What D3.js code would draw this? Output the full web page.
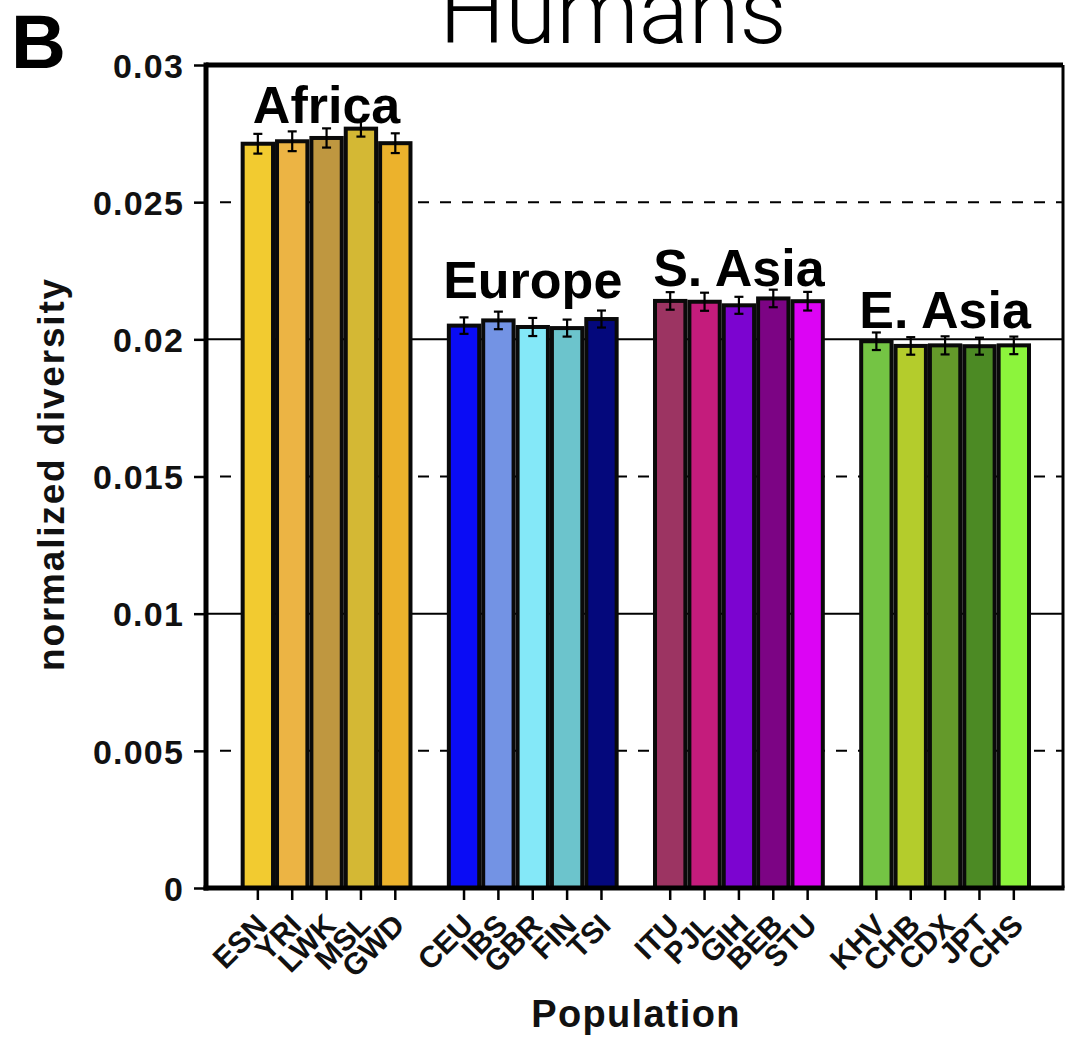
<!DOCTYPE html>
<html>
<head>
<meta charset="utf-8">
<script src="https://cdn.jsdelivr.net/npm/d3@7"></script>
<style>
  html, body { margin: 0; padding: 0; background: #fff; }
  svg { display: block; font-family: "Liberation Sans", Arial, sans-serif; }
</style>
</head>
<body>
<div id="app"></div>
<script>
// data
const groupNames = ["Africa", "Europe", "S. Asia", "E. Asia"];
const populations = [
  ["ESN", "YRI", "LWK", "MSL", "GWD"],
  ["CEU", "IBS", "GBR", "FIN", "TSI"],
  ["ITU", "PJL", "GIH", "BEB", "STU"],
  ["KHV", "CHB", "CDX", "JPT", "CHS"]
];
const diversity = [
  [0.02713, 0.02722, 0.02734, 0.02768, 0.02715],
  [0.02050, 0.02069, 0.02045, 0.02041, 0.02074],
  [0.02140, 0.02137, 0.02124, 0.02149, 0.02139],
  [0.01993, 0.01976, 0.01978, 0.01975, 0.01978]
];
const diversityErr = [
  [0.00036, 0.00036, 0.00035, 0.00029, 0.00036],
  [0.00030, 0.00032, 0.00033, 0.00031, 0.00031],
  [0.00032, 0.00033, 0.00031, 0.00032, 0.00034],
  [0.00032, 0.00032, 0.00033, 0.00031, 0.00032]
];
const barColors = [
  ["#f2cb30", "#ecb444", "#bf9740", "#d4b834", "#ecb22c"],
  ["#0a0cf5", "#7393e4", "#84e8f8", "#6cc4cc", "#04087c"],
  ["#9c3462", "#c41c7c", "#7c04d0", "#7c0484", "#dc04f4"],
  ["#74c444", "#b4cc2c", "#64992a", "#4c8a24", "#8cf43c"]
];
// where each region name sits, in data units
const groupLabelAt = [0.0279, 0.02152, 0.02196, 0.02043];
const yTicks = [0, 0.005, 0.01, 0.015, 0.02, 0.025, 0.03];
const yTickLabels = ["0", "0.005", "0.01", "0.015", "0.02", "0.025", "0.03"];
const solidGrid = [0.01, 0.02];
const dashedGrid = [0.005, 0.015, 0.025];

const W = 1066, H = 1037;
const mLeft = 206, mRight = 1063, mTop = 65, mBottom = 888;

const bars = populations.flatMap((pops, g) => pops.map((p, i) => ({
  group: g, pop: p, value: diversity[g][i], err: diversityErr[g][i], color: barColors[g][i]
})));
const slots = populations.flatMap((pops, g) => g ? ["gap" + g, ...pops] : pops);

const x = d3.scaleBand().domain(slots).range([mLeft, mRight]).paddingInner(0).paddingOuter(0.97).align(0.52);
const y = d3.scaleLinear().domain([0, 0.03]).range([mBottom, mTop]);

const svg = d3.select("#app").append("svg").attr("width", W).attr("height", H);

// grid lines (behind bars)
svg.append("g").selectAll("line").data(solidGrid).join("line")
  .attr("x1", mLeft).attr("x2", mRight)
  .attr("y1", d => y(d)).attr("y2", d => y(d))
  .attr("stroke", "#000").attr("stroke-width", 2);
svg.append("g").selectAll("line").data(dashedGrid).join("line")
  .attr("x1", mLeft + 14).attr("x2", mRight)
  .attr("y1", d => y(d)).attr("y2", d => y(d))
  .attr("stroke", "#000").attr("stroke-width", 2)
  .attr("stroke-dasharray", "11,11");

// bars
const sw = 4;
svg.append("g").selectAll("rect").data(bars).join("rect")
  .attr("x", d => x(d.pop) + sw / 2)
  .attr("width", x.bandwidth() - sw)
  .attr("y", d => y(d.value))
  .attr("height", d => y(0) - y(d.value))
  .attr("fill", d => d.color)
  .attr("stroke", "#0a0a0a").attr("stroke-width", sw);

// error bars
const eb = svg.append("g").attr("stroke", "#000").attr("stroke-width", 2.2);
bars.forEach(d => {
  const cx = x(d.pop) + x.bandwidth() / 2;
  eb.append("line").attr("x1", cx).attr("x2", cx).attr("y1", y(d.value - d.err)).attr("y2", y(d.value + d.err));
  [d.value - d.err, d.value + d.err].forEach(v => {
    eb.append("line").attr("x1", cx - 4.5).attr("x2", cx + 4.5).attr("y1", y(v)).attr("y2", y(v));
  });
});

// region labels
svg.append("g").selectAll("text").data(groupNames).join("text")
  .attr("x", (d, g) => {
    const pops = populations[g];
    return (x(pops[0]) + x(pops[pops.length - 1]) + x.bandwidth()) / 2;
  })
  .attr("y", (d, g) => y(groupLabelAt[g]))
  .attr("text-anchor", "middle")
  .attr("font-size", 52).attr("font-weight", "bold")
  .text(d => d);

// frame: top and right
svg.append("line").attr("x1", mLeft).attr("x2", mRight).attr("y1", mTop).attr("y2", mTop)
  .attr("stroke", "#000").attr("stroke-width", 5);
svg.append("line").attr("x1", mRight).attr("x2", mRight).attr("y1", mTop).attr("y2", mBottom)
  .attr("stroke", "#000").attr("stroke-width", 3);

// y axis
const yAxis = svg.append("g").attr("transform", `translate(${mLeft},0)`)
  .call(d3.axisLeft(y).tickValues(yTicks).tickSize(12).tickSizeOuter(0).tickPadding(10)
    .tickFormat((d, i) => yTickLabels[i]));
yAxis.select(".domain").attr("stroke-width", 5).attr("d", `M0,${mTop - 2.5}V${mBottom + 2.5}`);
yAxis.selectAll(".tick line").attr("stroke-width", 2.5);
yAxis.selectAll(".tick text").attr("font-size", 34).attr("font-weight", "bold")
  .attr("font-family", "Liberation Sans, Arial, sans-serif")
  .attr("letter-spacing", 1.2).attr("fill", "#111").attr("dy", "0.36em");

// x axis
const xAxis = svg.append("g").attr("transform", `translate(0,${mBottom})`)
  .call(d3.axisBottom(x).tickValues(bars.map(d => d.pop)).tickSize(12).tickSizeOuter(0));
xAxis.select(".domain").attr("stroke-width", 5).attr("d", `M${mLeft - 2.5},0H${mRight + 1.5}`);
xAxis.selectAll(".tick line").attr("stroke-width", 2.5);
xAxis.selectAll(".tick text")
  .attr("y", null).attr("dy", null)
  .attr("transform", "translate(11,39) rotate(-45)")
  .attr("text-anchor", "end")
  .attr("font-size", 30).attr("font-weight", "bold")
  .attr("font-family", "Liberation Sans, Arial, sans-serif")
  .attr("fill", "#111");

// axis titles
svg.append("text")
  .attr("transform", "translate(64,474) rotate(-90)")
  .attr("text-anchor", "middle")
  .attr("font-size", 37).attr("font-weight", "bold").attr("letter-spacing", 1.8)
  .attr("fill", "#111")
  .text("normalized diversity");
svg.append("text")
  .attr("x", 636).attr("y", 1027)
  .attr("text-anchor", "middle")
  .attr("font-size", 38).attr("font-weight", "bold").attr("letter-spacing", 1.3)
  .attr("fill", "#111")
  .text("Population");

// title and panel letter
svg.append("text")
  .attr("x", 613).attr("y", 43)
  .attr("text-anchor", "middle")
  .attr("font-family", "Roboto, 'Liberation Sans', sans-serif")
  .attr("font-weight", 300).attr("font-size", 93)
  .text("Humans");
svg.append("text")
  .attr("x", 11).attr("y", 68)
  .attr("font-size", 76).attr("font-weight", "bold")
  .text("B");
</script>
</body>
</html>
